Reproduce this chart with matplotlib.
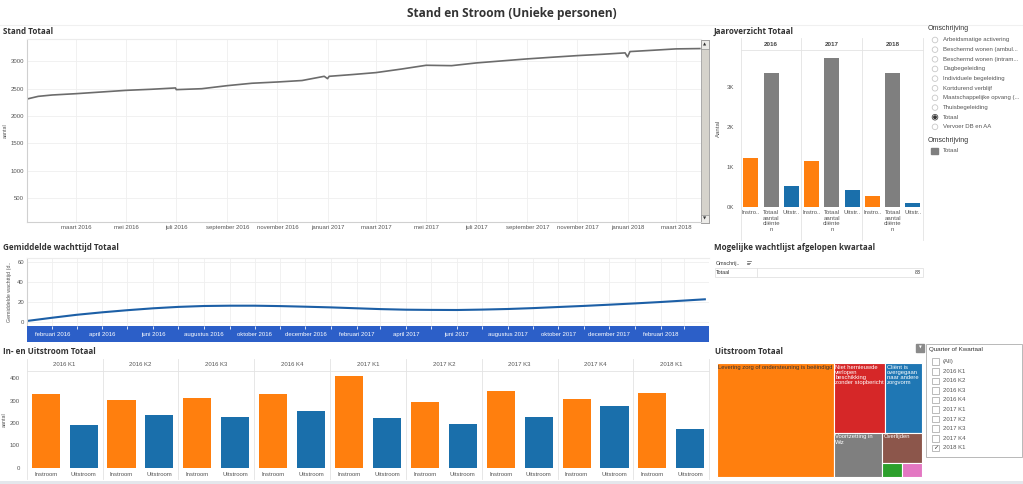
import pandas as pd
import matplotlib
matplotlib.use('Agg')
import matplotlib.pyplot as plt
from matplotlib.patches import Rectangle, Circle

stand_datums = ['2016-01-01', '2016-01-15', '2016-02-01', '2016-03-01', '2016-04-01', '2016-05-01',
                '2016-06-01', '2016-06-30', '2016-07-01', '2016-08-01', '2016-09-01', '2016-10-01',
                '2016-11-01', '2016-12-01', '2016-12-28', '2017-01-01', '2017-01-03', '2017-02-01',
                '2017-03-01', '2017-04-01', '2017-05-01', '2017-06-01', '2017-07-01', '2017-08-01',
                '2017-09-01', '2017-10-01', '2017-11-01', '2017-12-01', '2017-12-29', '2018-01-01',
                '2018-01-04', '2018-02-01', '2018-03-01', '2018-03-31']
stand_aantal = [2310, 2360, 2385, 2409, 2440, 2470, 2490, 2514, 2483, 2500, 2556, 2600,
                2623, 2650, 2727, 2684, 2727, 2760, 2795, 2860, 2929, 2922, 2972, 3009,
                3046, 3076, 3106, 3130, 3156, 3083, 3180, 3204, 3229, 3235]

wacht_datums = ['2016-01-01', '2016-02-01', '2016-03-01', '2016-04-01', '2016-05-01', '2016-06-01',
                '2016-07-01', '2016-08-01', '2016-09-01', '2016-10-01', '2016-11-01', '2016-12-01',
                '2017-01-01', '2017-02-01', '2017-03-01', '2017-04-01', '2017-05-01', '2017-06-01',
                '2017-07-01', '2017-08-01', '2017-09-01', '2017-10-01', '2017-11-01', '2017-12-01',
                '2018-01-01', '2018-02-01', '2018-03-26']
wacht_dagen = [0.7, 4.0, 6.9, 9.4, 11.5, 13.4, 14.8, 15.7, 16.0, 16.0, 15.6, 15.0,
               14.3, 13.4, 12.6, 12.0, 11.8, 11.7, 12.1, 12.7, 13.6, 14.7, 15.8, 17.0,
               18.3, 19.7, 22.4]

jaren = ['2016', '2017', '2018']
jaar_categorieen = ['Instro..', 'Totaal\naantal\ncliënte\nn', 'Uitstr..']
jaar_instroom = [1240, 1158, 290]
jaar_totaal = [3350, 3740, 3350]
jaar_uitstroom = [540, 433, 108]

kwartalen = ['2016 K1', '2016 K2', '2016 K3', '2016 K4', '2017 K1', '2017 K2', '2017 K3', '2017 K4', '2018 K1']
instroom = [328, 303, 313, 328, 410, 293, 345, 306, 336]
uitstroom = [191, 237, 228, 252, 222, 196, 227, 277, 175]

reden_labels = ['Levering zorg of ondersteuning is beëindigd',
                'Niet hernieuwde\nverlopen\nbeschikking\nzonder stopbericht',
                'Cliënt is\novergegaan\nnaar andere\nzorgvorm',
                'Voortzetting in\nWlz', 'Overlijden', '', '']
reden_aantal = [100, 27, 19, 16, 9, 2, 2]

omschrijvingen = ['Arbeidsmatige activering', 'Beschermd wonen (ambul...', 'Beschermd wonen (intram...',
                  'Dagbegeleiding', 'Individuele begeleiding', 'Kortdurend verblijf',
                  'Maatschappelijke opvang (...', 'Thuisbegeleiding', 'Totaal', 'Vervoer DB en AA']
wachtlijst_aantal = 83

maanden = ['januari', 'februari', 'maart', 'april', 'mei', 'juni', 'juli', 'augustus',
           'september', 'oktober', 'november', 'december']

# ---------------- stijl ----------------
plt.rcParams['font.family'] = ['Liberation Sans', 'DejaVu Sans']
oranje = '#ff7f0e'
blauw = '#1a6fab'
grijs = '#7f7f7f'
tekstkleur = '#555555'
lijnkleur = '#e3e3e3'
titel_font = dict(family=['Open Sans', 'DejaVu Sans'], weight='bold', color='#333333', fontsize=5.8)
klein = 4.3

W, H = 1023, 484
fig = plt.figure(figsize=(W / 100, H / 100), dpi=100)

bg = fig.add_axes([0, 0, 1, 1])
bg.set_xlim(0, W)
bg.set_ylim(H, 0)
bg.axis('off')


def px_axes(x0, y0, x1, y1):
    ax = fig.add_axes([x0 / W, 1 - y1 / H, (x1 - x0) / W, (y1 - y0) / H])
    ax.set_facecolor('none')
    return ax


def kale_assen(ax, links=True, onder=True):
    for kant, sp in ax.spines.items():
        sp.set_visible(False)
    ax.spines['left'].set_visible(links)
    ax.spines['bottom'].set_visible(onder)
    ax.spines['left'].set_color('#d0d0d0')
    ax.spines['bottom'].set_color('#d0d0d0')
    ax.tick_params(length=0, labelsize=klein, labelcolor=tekstkleur, pad=2)


# titels
bg.text(512, 13, 'Stand en Stroom (Unieke personen)', ha='center', va='center',
        **{**titel_font, 'fontsize': 8.6})
for x, y, s in [(3, 31, 'Stand Totaal'), (714, 31, 'Jaaroverzicht Totaal'),
                (3, 248, 'Gemiddelde wachttijd Totaal'), (714, 248, 'Mogelijke wachtlijst afgelopen kwartaal'),
                (3, 352, 'In- en Uitstroom Totaal'), (715, 352, 'Uitstroom Totaal')]:
    bg.text(x, y, s, ha='left', va='center', **titel_font)
bg.axhline(24.5, xmin=0, xmax=1, color='#f0f0f0', lw=0.8)
bg.add_patch(Rectangle((0, 480.5), W, 4, color='#e4e7ec', lw=0))

# ---------------- Stand Totaal ----------------
stand_x = pd.to_datetime(stand_datums)
ax = px_axes(26.7, 39, 700.7, 222)
ax.plot(stand_x, stand_aantal, color='#6c6c6c', lw=1.2, solid_capstyle='butt')
ax.set_xlim(pd.Timestamp('2016-01-01'), pd.Timestamp('2018-03-31'))
ax.set_ylim(60, 3410)
ax.set_yticks([500, 1000, 1500, 2000, 2500, 3000])
ticks = pd.date_range('2016-03-01', '2018-03-01', freq='2MS')
ax.set_xticks(ticks)
ax.set_xticklabels([f'{maanden[d.month - 1]} {d.year}' for d in ticks])
kale_assen(ax)
ax.spines['top'].set_visible(True)
ax.spines['top'].set_color('#ececec')
ax.grid(True, color='#efefef', lw=0.6)
ax.set_ylabel('aantal', fontsize=3.8, color=tekstkleur, labelpad=2)

# scrollbalk
bg.add_patch(Rectangle((700.7, 40), 8.6, 183, facecolor='#d6d3cc', edgecolor='#a0a0a0', lw=0.6))
for yb, sym in [(40, '▲'), (214.5, '▼')]:
    bg.add_patch(Rectangle((700.9, yb), 8.2, 8.5, facecolor='#ecebe8', edgecolor='#909090', lw=0.5))
    bg.text(705, yb + 4.3, sym, fontsize=3, ha='center', va='center', color='#333333',
            family='DejaVu Sans')

# ---------------- Jaaroverzicht ----------------
jx0, jx1 = 740.7, 923
ax = px_axes(jx0, 50, jx1, 207.3)
for i, jaar in enumerate(jaren):
    ax.bar([3 * i, 3 * i + 1, 3 * i + 2], [jaar_instroom[i], jaar_totaal[i], jaar_uitstroom[i]],
           width=0.74, color=[oranje, grijs, blauw])
ax.set_xlim(-0.5, 8.5)
ax.set_ylim(0, 3930)
ax.set_yticks([0, 1000, 2000, 3000])
ax.set_yticklabels(['0K', '1K', '2K', '3K'])
ax.set_xticks(range(9))
ax.set_xticklabels(jaar_categorieen * 3, linespacing=1.15, va='top')
kale_assen(ax, links=False, onder=False)
ax.tick_params(axis='y', pad=5)
ax.set_ylabel('Aantal', fontsize=4.3, color=tekstkleur, labelpad=4)
pw = (jx1 - jx0) / 3
for i, jaar in enumerate(jaren):
    bg.text(jx0 + pw * (i + 0.5), 44.5, jaar, ha='center', va='center', fontsize=4.5,
            weight='bold', color='#444444')
for i in range(4):
    bg.plot([jx0 + pw * i] * 2, [38, 240], color=lijnkleur, lw=0.6)
bg.plot([jx0, jx1], [50, 50], color=lijnkleur, lw=0.6)

# legenda / parameter
bg.text(928, 29, 'Omschrijving', fontsize=5, color='#333333', va='center')
for i, naam in enumerate(omschrijvingen):
    y = 40 + 9.65 * i
    bg.add_patch(Circle((935, y), 2.8, facecolor='white', edgecolor='#c8c8c8', lw=0.6))
    if naam == 'Totaal':
        bg.add_patch(Circle((935, y), 2.8, facecolor='white', edgecolor='#555555', lw=0.6))
        bg.add_patch(Circle((935, y), 1.2, color='#333333'))
    bg.text(943, y, naam, fontsize=klein, color=tekstkleur, va='center')
bg.text(928, 141, 'Omschrijving', fontsize=5, color='#333333', va='center')
bg.add_patch(Rectangle((931, 147.5), 7, 6.5, color=grijs))
bg.text(943, 151, 'Totaal', fontsize=klein, color=tekstkleur, va='center')

# ---------------- Gemiddelde wachttijd ----------------
wacht_x = pd.to_datetime(wacht_datums)
xmin, xmax = pd.Timestamp('2016-01-01'), pd.Timestamp('2018-03-31')
ax = px_axes(26.7, 257.7, 709, 325.7)
ax.plot(wacht_x, wacht_dagen, color='#1c5fa6', lw=1.5)
ax.set_xlim(xmin, xmax)
ax.set_ylim(-4, 64)
ax.set_yticks([0, 20, 40, 60])
ax.set_xticks(pd.date_range('2016-02-01', '2018-03-01', freq='MS'))
ax.set_xticklabels([])
kale_assen(ax, onder=False)
ax.spines['top'].set_visible(True)
ax.spines['top'].set_color('#ececec')
ax.grid(True, color='#efefef', lw=0.6)
ax.set_ylabel('Gemiddelde wachttijd (d..', fontsize=3.8, color=tekstkleur, labelpad=4)

band = px_axes(26.7, 325.7, 709, 342.3)
band.set_facecolor('#2c5fc8')
band.set_xlim(xmin, xmax)
band.set_yticks([])
maand_ticks = pd.date_range('2016-02-01', '2018-03-01', freq='MS')
band.set_xticks(maand_ticks)
band.tick_params(axis='x', top=True, bottom=False, direction='in', color='white', length=2.2,
                 width=0.6, labelbottom=False, labeltop=False)
for sp in band.spines.values():
    sp.set_visible(False)
for d in pd.date_range('2016-02-01', '2018-02-01', freq='2MS'):
    band.text(d, 0.45, f'{maanden[d.month - 1]} {d.year}', transform=band.get_xaxis_transform(),
              ha='center', va='center', fontsize=klein, color='white')

# ---------------- Mogelijke wachtlijst ----------------
bg.text(716, 263.5, 'Omschrij..', fontsize=3.9, color='#333333', va='center')
for k, lengte in enumerate([4.5, 3.2, 2]):
    bg.plot([746.5, 746.5 + lengte], [261.2 + 1.4 * k] * 2, color='#555555', lw=0.5)
bg.add_patch(Rectangle((714.5, 267.7), 208.5, 9.6, facecolor='none', edgecolor='#e2e2e2', lw=0.6))
bg.plot([757.3, 757.3], [267.7, 277.3], color='#e2e2e2', lw=0.6)
bg.text(716, 272.5, 'Totaal', fontsize=3.9, color='#333333', va='center')
bg.text(921, 272.5, str(wachtlijst_aantal), fontsize=3.9, color='#333333', va='center', ha='right')

# ---------------- In- en Uitstroom ----------------
ix0, ix1 = 26.7, 709.3
ax = px_axes(ix0, 371, ix1, 467.7)
posities = list(range(len(kwartalen)))
ax.bar([2 * p + 0.5 for p in posities], instroom, width=0.74, color=oranje)
ax.bar([2 * p + 1.5 for p in posities], uitstroom, width=0.74, color=blauw)
ax.set_xlim(0, 2 * len(kwartalen))
ax.set_ylim(0, 433)
ax.set_yticks([0, 100, 200, 300, 400])
ax.set_xticks([2 * p + o for p in posities for o in (0.5, 1.5)])
ax.set_xticklabels(['Instroom', 'Uitstroom'] * len(kwartalen))
kale_assen(ax, links=False, onder=False)
ax.tick_params(axis='y', pad=5)
ax.tick_params(axis='x', pad=3)
ax.set_ylabel('aantal', fontsize=3.8, color=tekstkleur, labelpad=2)
kw = (ix1 - ix0) / len(kwartalen)
for i, k in enumerate(kwartalen):
    bg.text(ix0 + kw * (i + 0.5), 365, k, ha='center', va='center', fontsize=klein, color=tekstkleur)
for i in range(len(kwartalen) + 1):
    bg.plot([ix0 + kw * i] * 2, [358.5, 479], color=lijnkleur, lw=0.6)
bg.plot([ix0, ix1], [371, 371], color=lijnkleur, lw=0.6)

# ---------------- Uitstroom treemap ----------------
reden_kleuren = ['#ff7f0e', '#d62728', '#1f77b4', '#7f7f7f', '#8c564b', '#2ca02c', '#e377c2']
indeling = ('h', [0, ('v', [('h', [1, 2]), ('h', [3, ('v', [4, ('h', [5, 6])])])])])


def som(node):
    if isinstance(node, int):
        return reden_aantal[node]
    return sum(som(k) for k in node[1])


def plaats(node, x0, y0, x1, y1, uit):
    if isinstance(node, int):
        uit[node] = (x0, y0, x1, y1)
        return
    richting, kinderen = node
    totaal = som(node)
    pos = x0 if richting == 'h' else y0
    for kind in kinderen:
        f = som(kind) / totaal
        if richting == 'h':
            stap = (x1 - x0) * f
            plaats(kind, pos, y0, pos + stap, y1, uit)
        else:
            stap = (y1 - y0) * f
            plaats(kind, x0, pos, x1, pos + stap, uit)
        pos += stap


vakken = {}
plaats(indeling, 716.7, 363.3, 921.7, 476.7, vakken)
for i, (x0, y0, x1, y1) in vakken.items():
    bg.add_patch(Rectangle((x0, y0), x1 - x0, y1 - y0, facecolor=reden_kleuren[i],
                           edgecolor='white', lw=0.8))
    if reden_labels[i]:
        bg.text(x0 + 1.5, y0 + 1.5, reden_labels[i], ha='left', va='top', fontsize=4.2,
                linespacing=1.05, color='#333333' if i == 0 else 'white')

# kwartaal filter
bg.add_patch(Rectangle((926, 344), 95.7, 112.7, facecolor='white', edgecolor='#b8b8b8', lw=0.7))
bg.add_patch(Rectangle((916, 343.7), 8.3, 8.3, color='#8a8a8a'))
bg.text(920.2, 347.6, '▼', fontsize=2.6, color='white', ha='center', va='center', family='DejaVu Sans')
bg.text(929, 349.7, 'Quarter of Kwartaal', fontsize=4.5, color='#333333', va='center')
for i, naam in enumerate(['(All)'] + kwartalen):
    y = 361.7 + 9.57 * i
    bg.add_patch(Rectangle((932.3, y - 3.3), 6.8, 6.6, facecolor='white', edgecolor='#b0b0b0', lw=0.6))
    if naam == kwartalen[-1]:
        bg.text(935.7, y, '✓', fontsize=4.5, ha='center', va='center', color='#333333',
                family='DejaVu Sans')
    bg.text(942.7, y, naam, fontsize=klein, color=tekstkleur, va='center')

fig.savefig('out.png', dpi=100)
